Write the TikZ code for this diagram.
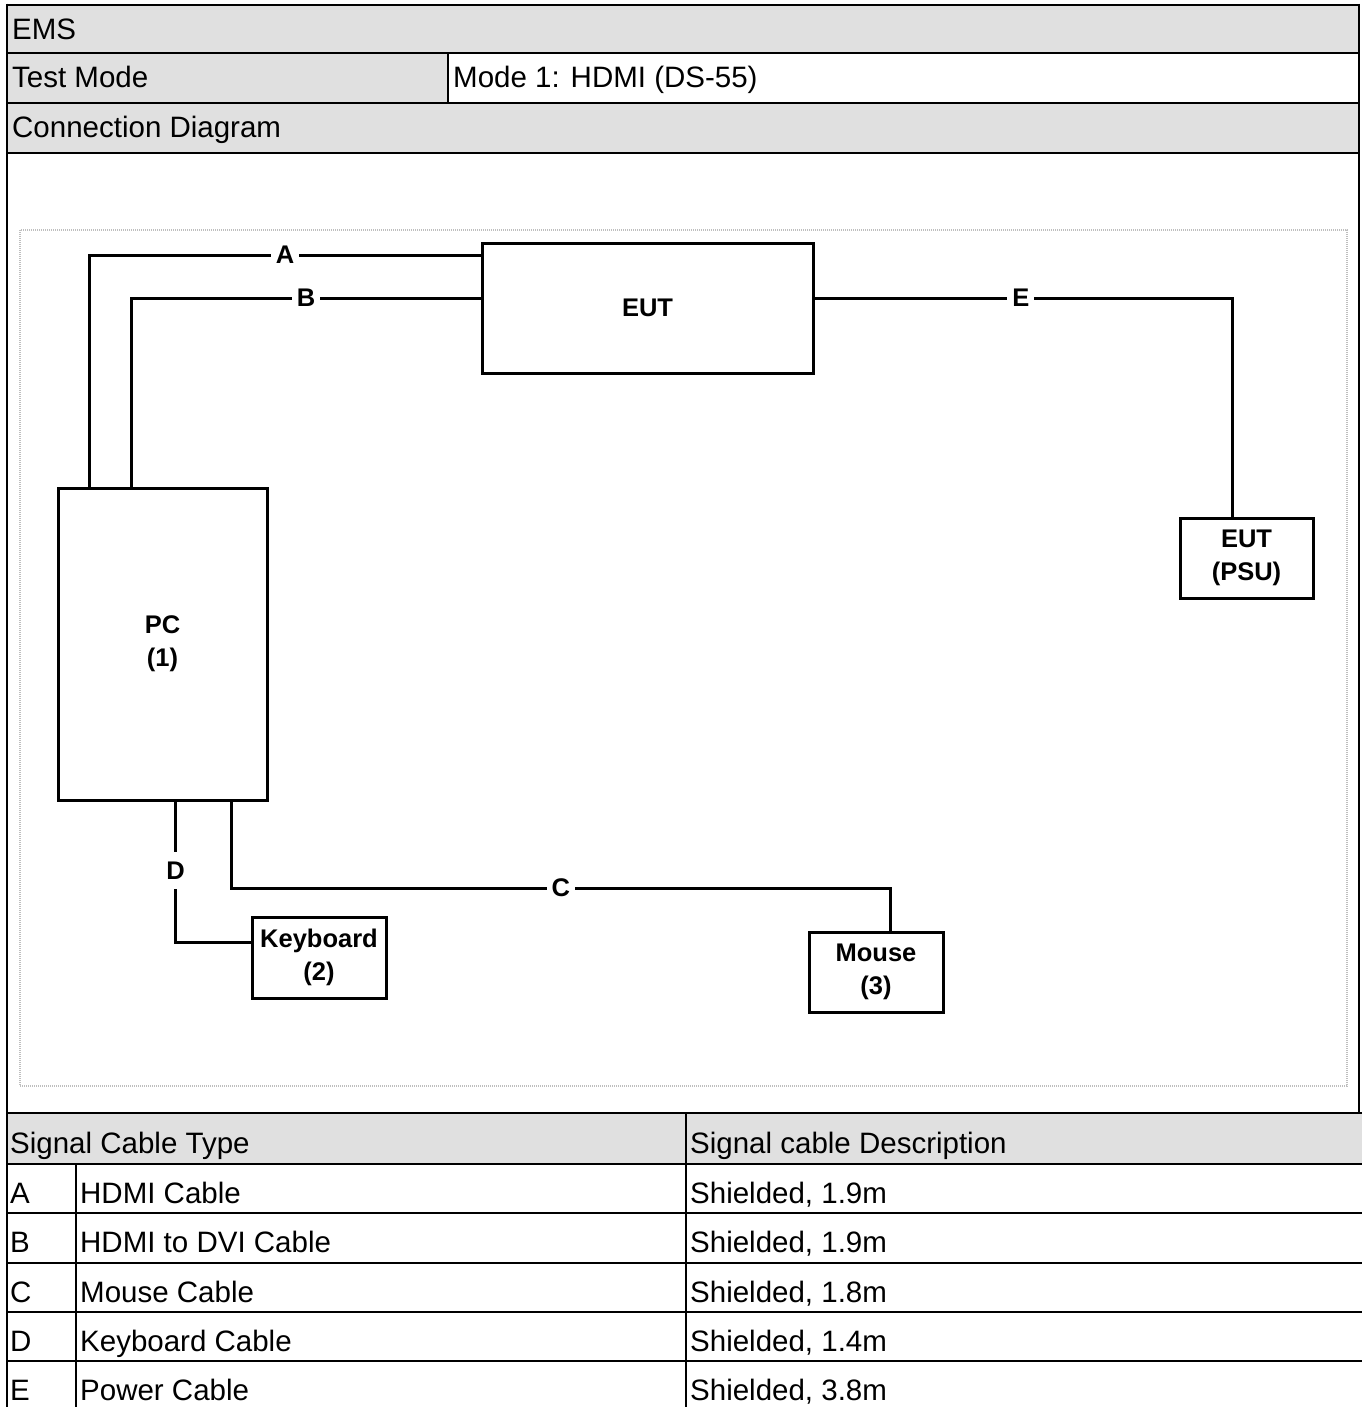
\documentclass[tikz,border=0pt]{standalone}
\usepackage{fontspec}
\setmainfont{Liberation Sans}
\definecolor{headgray}{RGB}{224,224,224}
\definecolor{framegray}{RGB}{190,190,190}
\begin{document}
\begin{tikzpicture}[x=1pt,y=-1pt,
  tline/.style={line width=2.5pt},
  ttext/.style={anchor=base west, inner sep=0pt, font=\fontsize{29.5}{35}\selectfont},
  devbox/.style={draw, line width=3pt, align=center, inner sep=0pt,
                 font=\bfseries\fontsize{25.5}{33}\selectfont},
  cable/.style={line width=3pt},
  lab/.style={fill=white, inner xsep=5pt, inner ysep=3pt, font=\bfseries\fontsize{25.5}{30}\selectfont}]
\useasboundingbox (0,0) rectangle (1362,1407);

% ---------- grey header fills ----------
\fill[headgray] (7,5) rectangle (1359,53);
\fill[headgray] (7,53) rectangle (448,103);
\fill[headgray] (7,103) rectangle (1359,153);
\fill[headgray] (7,1113) rectangle (1362,1164);

% ---------- table lines ----------
\draw[tline] (7,5) -- (1359,5);
\draw[tline] (7,53) -- (1359,53);
\draw[tline] (7,103) -- (1359,103);
\draw[tline] (7,153) -- (1359,153);
\draw[tline] (448,53) -- (448,103);
\draw[tline] (7,3.75) -- (7,1407);
\draw[tline] (1359,3.75) -- (1359,1114.25);
\draw[tline] (7,1113) -- (1362,1113);
\draw[tline] (7,1164) -- (1362,1164);
\draw[tline] (7,1213) -- (1362,1213);
\draw[tline] (7,1263) -- (1362,1263);
\draw[tline] (7,1312) -- (1362,1312);
\draw[tline] (7,1361) -- (1362,1361);
\draw[tline] (76,1164) -- (76,1407);
\draw[tline] (686,1113) -- (686,1407);

% ---------- table texts ----------
\node[ttext] (ems)  at (12,40)  {EMS};
\node[ttext] (tm)   at (12,88)  {Test Mode};
\node[ttext] (mode) at (453,88) {Mode 1: HDMI (DS-55)};
\node[ttext] (cd)   at (12,138) {Connection Diagram};

\node[ttext] (sct) at (10,1153)  {Signal Cable Type};
\node[ttext] (scd) at (690,1153) {Signal cable Description};

\node[ttext] (la) at (10,1203) {A};
\node[ttext] (na) at (80,1203) {HDMI Cable};
\node[ttext] (da) at (690,1203) {Shielded, 1.9m};
\node[ttext] (lb) at (10,1252) {B};
\node[ttext] (nb) at (80,1252) {HDMI to DVI Cable};
\node[ttext] (db) at (690,1252) {Shielded, 1.9m};
\node[ttext] (lc) at (10,1302) {C};
\node[ttext] (nc) at (80,1302) {Mouse Cable};
\node[ttext] (dc) at (690,1302) {Shielded, 1.8m};
\node[ttext] (ld) at (10,1351) {D};
\node[ttext] (nd) at (80,1351) {Keyboard Cable};
\node[ttext] (dd) at (690,1351) {Shielded, 1.4m};
\node[ttext] (le) at (10,1400) {E};
\node[ttext] (ne) at (80,1400) {Power Cable};
\node[ttext] (de) at (690,1400) {Shielded, 3.8m};

% ---------- diagram frame ----------
\draw[framegray, line width=1.5pt, dash pattern=on 1pt off 1pt] (20,230) rectangle (1347,1086);

% ---------- devices ----------
\node[devbox, minimum width=331pt, minimum height=130pt] (EUT) at (647.5,308) {EUT};
\node[devbox, minimum width=209pt, minimum height=312pt] (PC) at (162.5,644) {PC\\(1)};
\node[devbox, minimum width=134pt, minimum height=81pt] (KB) at (319,957.5) {Keyboard\\(2)};
\node[devbox, minimum width=134pt, minimum height=80pt] (MS) at (876,972) {Mouse\\(3)};
\node[devbox, minimum width=133pt, minimum height=80pt] (PSU) at (1246.5,558) {EUT\\(PSU)};

% ---------- cables ----------
\coordinate (cA) at (0,255);
\coordinate (cB) at (0,298);
\coordinate (cE) at (1232,298);
\coordinate (cC) at (890,888);
\coordinate (cD) at (0,942);

\draw[cable] ([xshift=33pt]PC.north west) |- node[lab, pos=0.75] {A} (EUT.west |- cA);
\draw[cable] ([xshift=75pt]PC.north west) |- node[lab, pos=0.75] {B} (EUT.west |- cB);
\draw[cable] (EUT.east |- cE) -| node[lab, pos=0.247] {E} (PSU.north -| cE);
\draw[cable] ([xshift=175pt]PC.south west) |- node[lab, pos=0.75] {C} (cC) -- (MS.north -| cC);
\draw[cable] ([xshift=119pt]PC.south west) |- node[lab, pos=0.246, inner ysep=10pt] {D} (KB.west |- cD);
\end{tikzpicture}
\end{document}
